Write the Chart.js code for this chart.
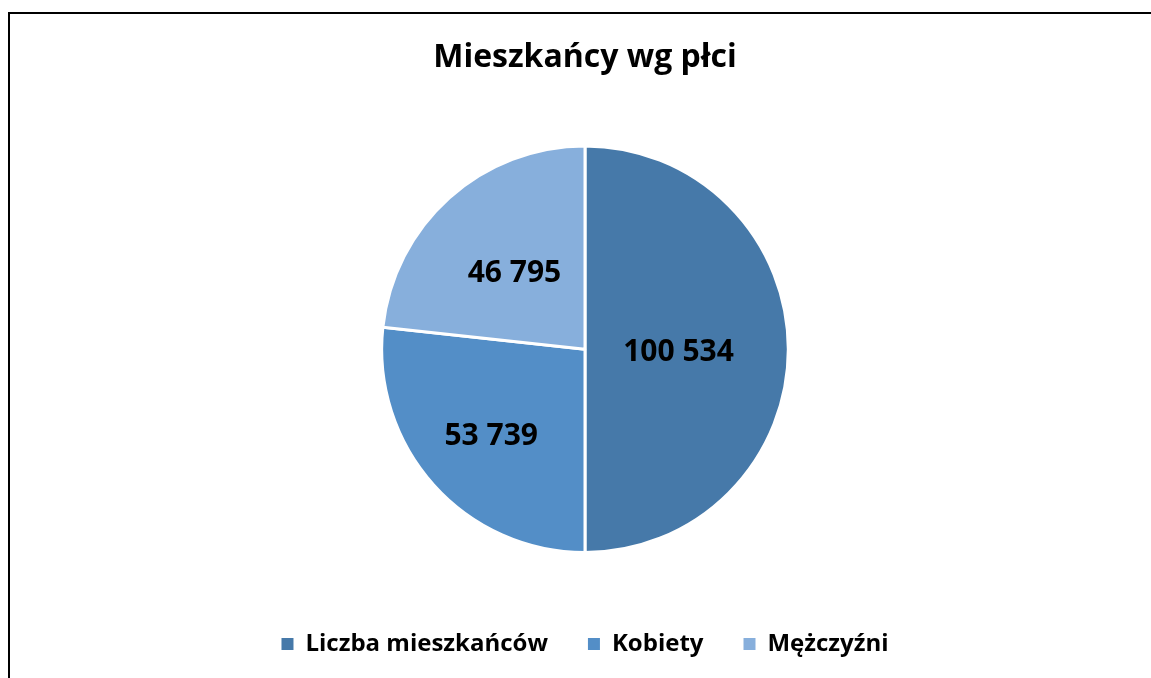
<!DOCTYPE html>
<html>
<head>
<meta charset="utf-8">
<script src="https://cdn.jsdelivr.net/npm/chart.js@4/dist/chart.umd.min.js"></script>
<style>
  html, body { margin: 0; padding: 0; background: #fff; }
  #wrap { width: 1151px; height: 678px; position: relative; }
</style>
</head>
<body>
<div id="wrap"><canvas id="chart-plec"></canvas></div>
<script>
  const categories = ['Liczba mieszkańców', 'Kobiety', 'Mężczyźni'];
  const values = [100534, 53739, 46795];
  const sliceColors = ['#4679A9', '#538EC7', '#87AFDC'];

  const FONT = '"Open Sans", Lato, sans-serif';

  function fmt(v) {
    return String(v).replace(/\B(?=(\d{3})+(?!\d))/g, ' ');
  }

  // ramka jak w Excelu (tylko lewa i górna krawędź widoczna)
  const frame = {
    id: 'frame',
    beforeDraw(chart) {
      const ctx = chart.ctx;
      ctx.save();
      ctx.strokeStyle = '#000';
      ctx.lineWidth = 2;
      ctx.beginPath();
      ctx.moveTo(9, chart.height);
      ctx.lineTo(9, 13);
      ctx.lineTo(chart.width, 13);
      ctx.stroke();
      ctx.restore();
    },
  };

  // etykiety wartości wewnątrz wycinków
  const labelPos = [0.46, 0.62, 0.52];
  const valueLabels = {
    id: 'valueLabels',
    afterDatasetsDraw(chart) {
      const ctx = chart.ctx;
      const meta = chart.getDatasetMeta(0);
      ctx.save();
      ctx.font = 'bold 30px ' + FONT;
      ctx.fillStyle = '#000';
      ctx.textAlign = 'center';
      ctx.textBaseline = 'middle';
      meta.data.forEach(function (arc, i) {
        const p = arc.getProps(['x', 'y', 'startAngle', 'endAngle', 'outerRadius'], true);
        const mid = (p.startAngle + p.endAngle) / 2;
        const r = p.outerRadius * labelPos[i];
        ctx.fillText(fmt(values[i]), p.x + Math.cos(mid) * r, p.y + Math.sin(mid) * r + 3);
      });
      ctx.restore();
    },
  };

  const ctx = document.getElementById('chart-plec').getContext('2d');
  const myPieChart = new Chart(ctx, {
    type: 'pie',
    data: {
      labels: categories,
      datasets: [
        {
          data: values,
          backgroundColor: sliceColors,
          borderColor: '#fff',
          borderWidth: 3,
          hoverOffset: 0,
        },
      ],
    },
    options: {
      responsive: true,
      maintainAspectRatio: false,
      animation: false,
      layout: {
        padding: { left: 19, right: 0, top: 0, bottom: 12 },
      },
      plugins: {
        tooltip: { enabled: false },
        title: {
          display: true,
          text: 'Mieszkańcy wg płci',
          color: '#000',
          font: { family: FONT, size: 32, weight: 'bold', lineHeight: 1.2 },
          padding: { top: 39, bottom: 67 },
        },
        legend: {
          position: 'bottom',
          title: {
            display: true,
            text: ' ',
            font: { size: 10, lineHeight: 1.2 },
            padding: 13,
          },
          labels: {
            color: '#000',
            font: { family: FONT, size: 24, weight: 'bold' },
            boxWidth: 12,
            boxHeight: 12,
            padding: 40,
            generateLabels(chart) {
              const items = Chart.overrides.pie.plugins.legend.labels.generateLabels(chart);
              items.forEach(function (it) {
                it.lineWidth = 0;
              });
              return items;
            },
          },
        },
      },
    },
    plugins: [frame, valueLabels],
  });
</script>
</body>
</html>
